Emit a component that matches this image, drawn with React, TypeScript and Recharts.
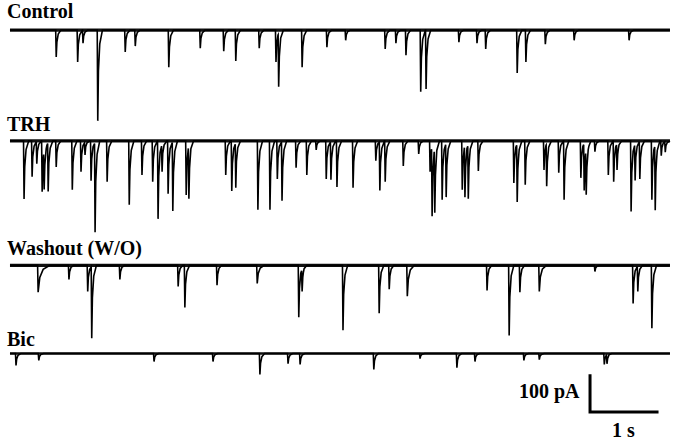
import { LineChart, Line, XAxis, YAxis } from 'recharts';

// events: [time (s), amplitude (pA), decay stretch]
const controlEvents: number[][] = [
  [0.69, 74], [1.01, 88], [1.09, 36], [1.31, 250], [1.72, 60], [1.87, 44],
  [2.37, 102], [2.84, 50], [3.19, 58], [3.37, 85], [3.72, 50], [3.97, 88],
  [4.01, 146], [4.36, 102], [4.73, 47], [5.01, 28], [5.6, 52], [5.76, 36],
  [5.91, 69], [6.13, 170], [6.21, 162], [6.7, 33], [6.97, 36], [7.1, 52],
  [7.57, 118], [7.7, 88], [7.99, 39], [8.42, 28], [9.24, 28],
];

const trhEvents: number[][] = [
  [0.21, 160], [0.33, 99], [0.4, 63], [0.48, 140], [0.51, 113], [0.57, 135],
  [0.69, 72], [0.93, 135], [1.06, 85], [1.12, 36], [1.21, 110], [1.27, 248],
  [1.45, 113], [1.78, 176], [1.97, 94], [2.13, 113], [2.21, 215], [2.27, 77],
  [2.36, 146], [2.43, 193], [2.63, 149], [2.67, 143], [3.22, 94], [3.31, 138],
  [3.37, 124], [3.7, 190], [3.88, 190], [3.99, 105], [4.06, 165], [4.27, 74],
  [4.43, 94], [4.57, 25], [4.72, 105], [4.79, 107], [4.88, 127], [5.12, 129],
  [5.46, 55], [5.52, 135], [5.6, 113], [5.87, 69], [6.1, 36], [6.27, 85],
  [6.3, 195], [6.34, 176], [6.45, 162], [6.51, 149], [6.75, 135], [6.79, 140],
  [6.84, 149], [6.99, 83], [7.52, 116], [7.57, 160], [7.69, 121], [7.97, 80],
  [8.01, 116], [8.19, 88], [8.27, 162], [8.52, 102], [8.57, 129], [8.6, 129],
  [8.73, 30], [8.93, 94], [9.01, 113], [9.06, 72], [9.27, 195], [9.33, 102],
  [9.4, 105], [9.58, 162], [9.63, 179], [9.72, 41], [9.78, 30],
];

const washoutEvents: number[][] = [
  [0.42, 74, 2.5], [0.88, 39], [1.16, 72], [1.22, 198], [1.64, 39], [2.51, 58],
  [2.61, 116], [3.09, 55], [3.69, 50, 1.5], [4.31, 143], [4.36, 61], [4.97, 179],
  [5.51, 132], [5.66, 66], [5.93, 85, 1.5], [7.12, 69], [7.45, 193], [7.61, 74],
  [7.9, 72, 1.5], [8.73, 17], [9.3, 105], [9.37, 72], [9.58, 173],
];

const bicEvents: number[][] = [
  [0.09, 33], [0.43, 19], [2.15, 22], [3.03, 22], [3.73, 58], [4.15, 28],
  [4.33, 30], [5.43, 44], [6.12, 14], [6.67, 39], [6.94, 22], [7.67, 19],
  [7.9, 17], [8.87, 30], [8.91, 25],
];

const traceNames = ['Control', 'TRH', 'Washout (W/O)', 'Bic'];
const baselines = [-83, -388, -731, -974]; // pA offsets of each sweep
const noiseBand = [3.4, 3.4, 3.2, 2.6]; // px thickness of baseline noise
const sweepEnd = 9.85; // s

// PSC shape: time after peak (s) -> fraction of amplitude
const decayShape = [
  [0, 1], [0.01, 0.45], [0.03, 0.15], [0.07, 0],
];
const riseTime = 0.008;

const kernel = (d: number, stretch: number) => {
  if (d < -riseTime) return 0;
  if (d < 0) return (d + riseTime) / riseTime;
  for (let i = 1; i < decayShape.length; i++) {
    const t0 = decayShape[i - 1][0] * stretch;
    const t1 = decayShape[i][0] * stretch;
    if (d <= t1) {
      const f = (d - t0) / (t1 - t0);
      return decayShape[i - 1][1] + f * (decayShape[i][1] - decayShape[i - 1][1]);
    }
  }
  return 0;
};

const buildTrace = (events: number[][], base: number) => {
  const times = new Set<number>([0, sweepEnd]);
  events.forEach(([t, , s = 1]) => {
    times.add(t - riseTime);
    decayShape.forEach(([dt]) => times.add(t + dt * s));
  });
  return Array.from(times)
    .sort((a, b) => a - b)
    .map((t) => {
      let v = base;
      events.forEach(([te, amp, s = 1]) => {
        v -= amp * kernel(t - te, s);
      });
      return { t, v };
    });
};

const traces = [controlEvents, trhEvents, washoutEvents, bicEvents].map((ev, i) =>
  buildTrace(ev, baselines[i])
);

// 100 pA / 1 s scale bar
const scaleBar = [
  { t: 8.657, v: -1035 },
  { t: 8.657, v: -1135 },
  { t: 9.657, v: -1135 },
];

const labelY = [18, 131, 255, 346];

const App = () => {
  return (
    <div style={{ position: 'absolute', left: 0, top: 0, width: 677, height: 441, background: '#fff' }}>
      <LineChart width={677} height={441} margin={{ top: 0, right: 0, bottom: 0, left: 0 }}>
        <XAxis type="number" dataKey="t" domain={[-0.149, 9.955]} allowDataOverflow hide />
        <YAxis type="number" dataKey="v" domain={[-1215, 0]} allowDataOverflow hide />
        {baselines.map((b, i) => (
          <Line
            key={`base-${i}`}
            data={[{ t: 0, v: b }, { t: sweepEnd, v: b }]}
            dataKey="v"
            stroke="#111"
            strokeWidth={noiseBand[i]}
            dot={false}
            activeDot={false}
            isAnimationActive={false}
          />
        ))}
        {traces.map((d, i) => (
          <Line
            key={traceNames[i]}
            data={d}
            dataKey="v"
            type="linear"
            stroke="#000"
            strokeWidth={1.6}
            dot={false}
            activeDot={false}
            isAnimationActive={false}
          />
        ))}
        <Line
          data={scaleBar}
          dataKey="v"
          stroke="#000"
          strokeWidth={3}
          strokeLinejoin="miter"
          strokeLinecap="square"
          dot={false}
          activeDot={false}
          isAnimationActive={false}
        />
      </LineChart>
      <svg
        width={677}
        height={441}
        style={{ position: 'absolute', left: 0, top: 0, pointerEvents: 'none' }}
        fontFamily="'Liberation Serif', 'Times New Roman', serif"
        fontWeight="bold"
        fontSize={20}
      >
        {traceNames.map((n, i) => (
          <text key={n} x={7} y={labelY[i]} fill="#000">{n}</text>
        ))}
        <text x={519} y={398} fill="#000">100 pA</text>
        <text x={612} y={437} fill="#000">1 s</text>
      </svg>
    </div>
  );
};

export default App;
